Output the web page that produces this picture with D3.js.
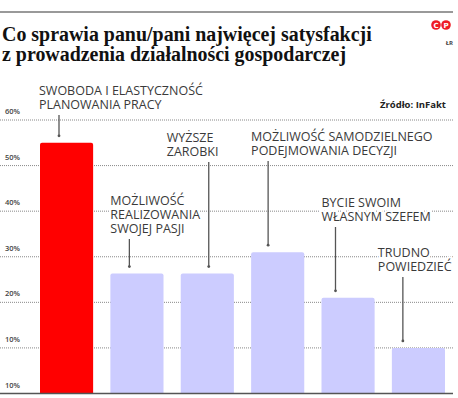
<!DOCTYPE html>
<html>
<head>
<meta charset="utf-8">
<script src="https://cdn.jsdelivr.net/npm/d3@7"></script>
<style>
  html, body { margin: 0; padding: 0; background: #fff; }
  svg { display: block; }
</style>
</head>
<body>
<div id="chart"></div>
<script>
// data
const categories = ['swoboda', 'pasja', 'zarobki', 'decyzje', 'szef', 'trudno']
const values = [55, 26.3, 26.3, 31, 21, 10]
const barColors = ['#ff0000', '#ccccff', '#ccccff', '#ccccff', '#ccccff', '#ccccff']
const labelLines = [
  ['SWOBODA I ELASTYCZNOŚĆ', 'PLANOWANIA PRACY'],
  ['MOŻLIWOŚĆ', 'REALIZOWANIA', 'SWOJEJ PASJI'],
  ['WYŻSZE', 'ZAROBKI'],
  ['MOŻLIWOŚĆ SAMODZIELNEGO', 'PODEJMOWANIA DECYZJI'],
  ['BYCIE SWOIM', 'WŁASNYM SZEFEM'],
  ['TRUDNO', 'POWIEDZIEĆ']
]
const tickValues = [0, 10, 20, 30, 40, 50, 60]
const tickLabels = ['10%', '10%', '20%', '30%', '40%', '50%', '60%']
const titleLines = ['Co sprawia panu/pani najwięcej satysfakcji', 'z prowadzenia działalności gospodarczej']
const source = 'Źródło: InFakt'

// annotation layout: label x offset from bar, first baseline, leader x offset from bar
const annot = [
  { dx: -1, y: 95, lx: 19 },
  { dx: 0, y: 205, lx: 19 },
  { dx: -14, y: 142, lx: 28 },
  { dx: 0, y: 141, lx: 17 },
  { dx: 0, y: 207, lx: 14 },
  { dx: -14, y: 257, lx: 11 }
]

const width = 458
const height = 398
const lineH = 14

const svg = d3.select('#chart')
  .append('svg')
  .attr('width', width)
  .attr('height', height)

const x = d3.scaleBand()
  .domain(categories)
  .range([40, 445])
  .paddingInner(0.245)
  .paddingOuter(0)

const y = d3.scaleLinear()
  .domain([0, 60])
  .range([393.5, 120])

// top rule
svg.append('line')
  .attr('x1', 0).attr('x2', 453)
  .attr('y1', 12).attr('y2', 12)
  .attr('stroke', '#777')
  .attr('stroke-width', 1.5)

// title, sized so the first line spans the same width as the original
const titleText = svg.append('g')
  .attr('font-family', "'Liberation Serif', serif")
  .attr('font-weight', 'bold')
  .attr('fill', '#111')
  .selectAll('text')
  .data(titleLines)
  .join('text')
  .attr('x', 2)
  .attr('y', (d, i) => 41 + i * 20)
  .attr('font-size', 18)
  .text(d => d)
const tw = titleText.node().getComputedTextLength()
titleText.attr('font-size', 18 * 370 / tw)

// logo
const logo = svg.append('g')
logo.selectAll('circle')
  .data(['C', 'P'])
  .join('circle')
  .attr('cx', (d, i) => 436 + i * 10)
  .attr('cy', 25)
  .attr('r', 4.8)
  .attr('fill', '#ee1c25')
logo.selectAll('text')
  .data(['C', 'P'])
  .join('text')
  .attr('x', (d, i) => 436 + i * 10)
  .attr('y', 27.5)
  .attr('text-anchor', 'middle')
  .attr('font-family', 'DejaVu Sans, sans-serif')
  .attr('font-weight', 'bold')
  .attr('font-size', 7)
  .attr('fill', '#fff')
  .text(d => d)
svg.append('text')
  .attr('x', 453).attr('y', 45)
  .attr('text-anchor', 'end')
  .attr('font-family', 'Open Sans, sans-serif')
  .attr('font-weight', 'bold')
  .attr('font-size', 6)
  .attr('fill', '#444')
  .text('ŁR')

// source
svg.append('text')
  .attr('x', 446).attr('y', 108)
  .attr('text-anchor', 'end')
  .attr('font-family', 'Open Sans, sans-serif')
  .attr('font-weight', 'bold')
  .attr('font-size', 9.5)
  .attr('fill', '#222')
  .text(source)

// gridlines + tick labels
const grid = svg.append('g')
grid.selectAll('line')
  .data(tickValues.slice(1))
  .join('line')
  .attr('x1', 0).attr('x2', 453)
  .attr('y1', d => y(d)).attr('y2', d => y(d))
  .attr('stroke', '#888')
  .attr('stroke-width', 1)
  .attr('stroke-dasharray', '1,1')
grid.selectAll('text')
  .data(tickValues)
  .join('text')
  .attr('x', 5)
  .attr('y', d => y(d) - 6)
  .attr('font-family', 'Open Sans, sans-serif')
  .attr('font-size', 7.5)
  .attr('font-weight', 600)
  .attr('fill', '#444')
  .text((d, i) => tickLabels[i])

// bars
svg.append('g')
  .selectAll('path')
  .data(categories)
  .join('path')
  .attr('fill', (d, i) => barColors[i])
  .attr('d', (d, i) => {
    const x0 = x(d), w = x.bandwidth(), top = y(values[i]), bot = y(0), r = 2
    return `M${x0},${bot}V${top + r}Q${x0},${top} ${x0 + r},${top}H${x0 + w - r}Q${x0 + w},${top} ${x0 + w},${top + r}V${bot}Z`
  })

// baseline
svg.append('line')
  .attr('x1', 0).attr('x2', 453)
  .attr('y1', y(0)).attr('y2', y(0))
  .attr('stroke', '#555')
  .attr('stroke-width', 1.5)

// leaders
const leaders = svg.append('g')
categories.forEach((c, i) => {
  const a = annot[i]
  const lx = x(c) + a.lx
  const y0 = a.y + (labelLines[i].length - 1) * lineH + 6
  const y1 = y(values[i]) - 7
  leaders.append('line')
    .attr('x1', lx).attr('x2', lx)
    .attr('y1', y0).attr('y2', y1)
    .attr('stroke', '#555')
    .attr('stroke-width', 1.3)
  leaders.append('circle')
    .attr('cx', lx).attr('cy', y1)
    .attr('r', 1.4)
    .attr('fill', '#555')
})

// labels (one text per label, lines as tspans)
svg.append('g')
  .attr('font-family', 'Open Sans, sans-serif')
  .attr('font-size', 12.5)
  .attr('fill', '#3a3a3a')
  .attr('stroke', '#fff')
  .attr('stroke-width', 4)
  .attr('paint-order', 'stroke')
  .selectAll('text')
  .data(categories)
  .join('text')
  .attr('y', (d, i) => annot[i].y)
  .each(function(c, i) {
    d3.select(this).selectAll('tspan')
      .data(labelLines[i])
      .join('tspan')
      .attr('x', x(c) + annot[i].dx)
      .attr('dy', (d, j) => j === 0 ? 0 : lineH)
      .text(d => d)
  })
</script>
</body>
</html>
